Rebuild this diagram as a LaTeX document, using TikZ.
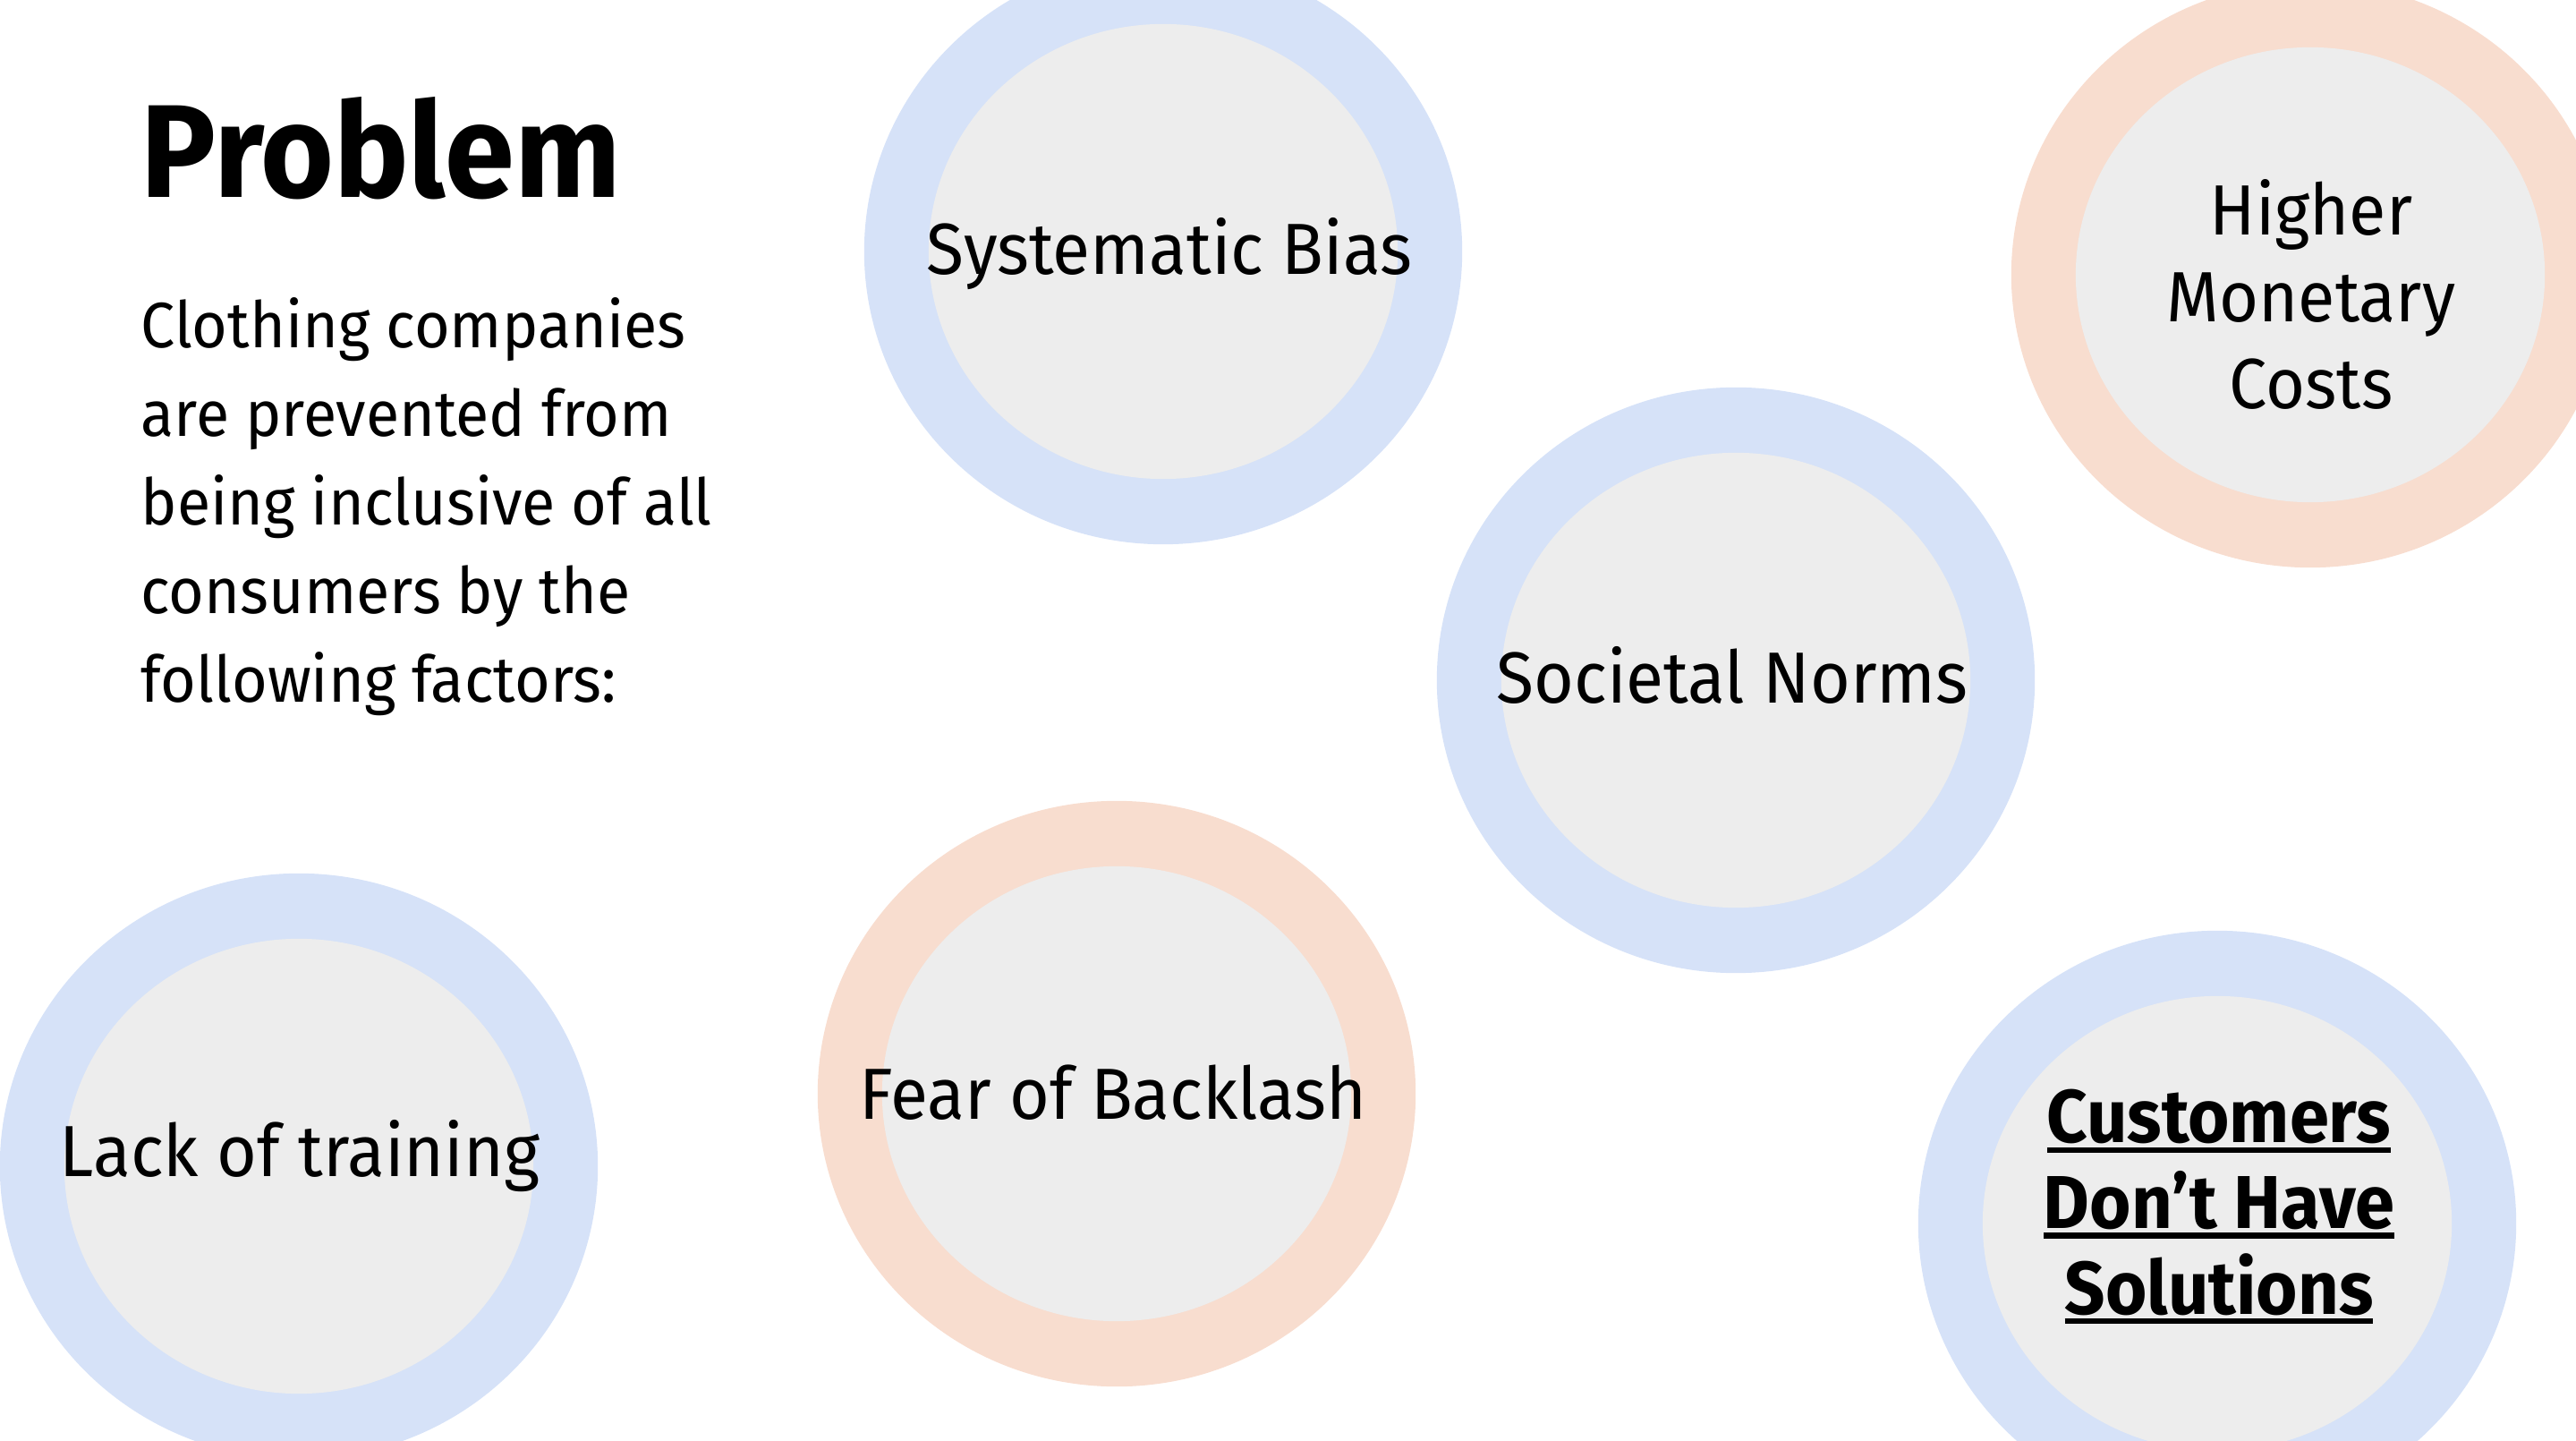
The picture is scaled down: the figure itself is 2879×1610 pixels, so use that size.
\documentclass[tikz,border=0pt]{standalone}
\usepackage{fontspec}
\setmainfont[FakeStretch=0.95]{Fira Sans}
\usetikzlibrary{shapes.geometric}
\definecolor{ringblue}{RGB}{214,226,248}
\definecolor{ringorange}{RGB}{248,221,207}
\definecolor{coregray}{RGB}{237,237,237}
% heavy underline drawn just under the baseline
\newcommand\thickul[1]{{\setbox0\hbox{#1}\rlap{\rule[-3.25pt]{\wd0}{1.85pt}}\box0}}

\begin{document}
\begin{tikzpicture}[x=0.01cm,y=-0.01cm,
  ring/.style={ellipse, minimum width=6.68cm, minimum height=6.54cm, inner sep=0pt, draw=none},
  bluering/.style={ring, fill=ringblue},
  orangering/.style={ring, fill=ringorange},
  corecircle/.style={ellipse, minimum width=5.24cm, minimum height=5.08cm, inner sep=0pt, fill=coregray},
  factor/.style={anchor=base, inner sep=0pt, align=center,
    font=\fontsize{23}{27.6}\selectfont},
  stackfactor/.style={factor, font=\fontsize{22.6}{27.6}\selectfont},
  keyfactor/.style={factor, font=\fontsize{23.8}{27.2}\selectfont\bfseries},
  title/.style={anchor=base west, inner sep=0pt, font=\fontsize{42}{45}\selectfont\bfseries},
  body/.style={anchor=base west, inner sep=0pt, align=left,
    font=\fontsize{20.4}{28.17}\selectfont}
]
\useasboundingbox (0,0) rectangle (2879,1610);
\begin{scope}
\clip (0,0) rectangle (2879,1610);

% rings and their grey cores
\node[bluering]   (sbRing)  at (1300,281)  {};
\node[corecircle] (sbCore)  at (sbRing)   {};
\node[orangering] (hmRing)  at (2582,307)  {};
\node[corecircle] (hmCore)  at (hmRing)   {};
\node[bluering]   (snRing)  at (1940,760)  {};
\node[corecircle] (snCore)  at (snRing)   {};
\node[bluering]   (ltRing)  at (334,1303)  {};
\node[corecircle] (ltCore)  at (ltRing)   {};
\node[orangering] (fbRing)  at (1248,1222) {};
\node[corecircle] (fbCore)  at (fbRing)   {};
\node[bluering]   (cuRing)  at (2478,1367) {};
\node[corecircle] (cuCore)  at (cuRing)   {};
\end{scope}

% labels inside the circles (multi-line labels sit on their last baseline)
\node[factor] (sbText) at (1307,307)  {Systematic Bias};
\node[stackfactor] (hmText) at (2583,457)  {Higher\\Monetary\\Costs};
\node[factor] (snText) at (1936,786)  {Societal Norms};
\node[factor] (ltText) at (335,1314)  {Lack of training};
\node[factor] (fbText) at (1244,1250) {Fear of Backlash};
\node[keyfactor] (cuText) at (2480,1468) {\thickul{Customers}\\\thickul{Don’t Have}\\\thickul{Solutions}};

% heading and description
\node[title] (head) at (157,221) {Problem};
\node[body] (desc) at (157,785) {Clothing companies\\are prevented from\\being inclusive of all\\consumers by the\\following factors:};
\end{tikzpicture}
\end{document}
